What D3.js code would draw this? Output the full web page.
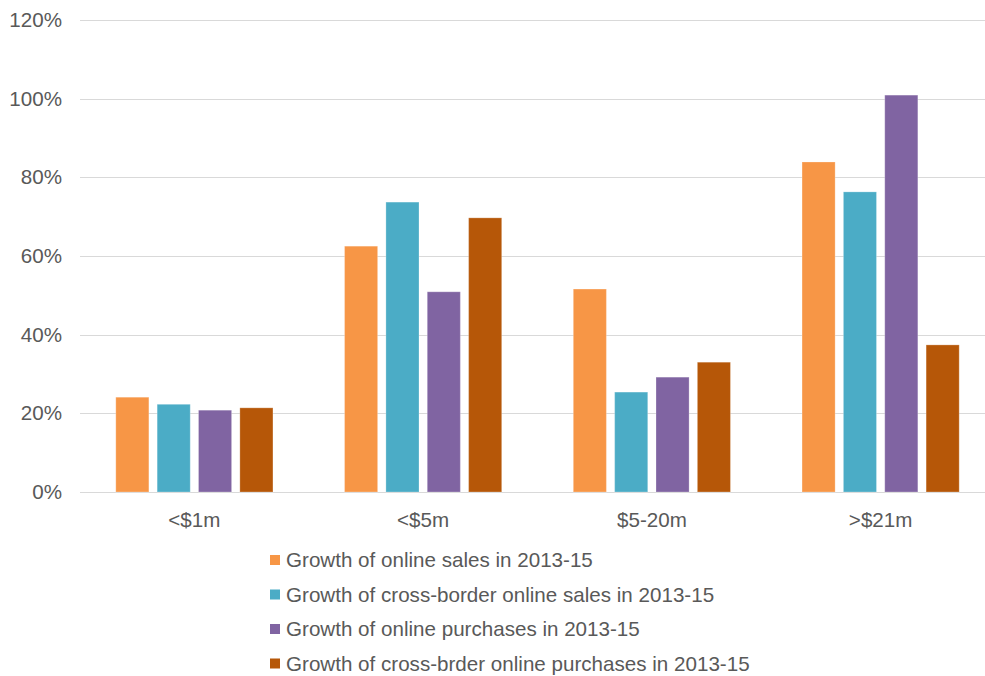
<!DOCTYPE html>
<html lang="en">
<head>
    <meta charset="UTF-8">
    <title>Growth by company size</title>
    <script src="https://d3js.org/d3.v7.min.js"></script>
    <style>
        body { margin: 0; background: #fff; }
        svg { display: block; font-family: "Liberation Sans", Arial, sans-serif; }
        .tick text { fill: #595959; font-size: 20.6px; }
    </style>
</head>
<body>
<svg width="985" height="676"></svg>
<script>
    // categories and series
    const categories = ["<$1m", "<$5m", "$5-20m", ">$21m"];
    const seriesNames = [
        "Growth of online sales in 2013-15",
        "Growth of cross-border online sales in 2013-15",
        "Growth of online purchases in 2013-15",
        "Growth of cross-brder online purchases in 2013-15"
    ];
    const onlineSales = [24.1, 62.5, 51.6, 83.9];
    const crossBorderSales = [22.3, 73.7, 25.4, 76.3];
    const onlinePurchases = [20.8, 50.9, 29.2, 100.9];
    const crossBorderPurchases = [21.4, 69.7, 33.0, 37.4];
    const yTicks = [0, 20, 40, 60, 80, 100, 120];
    const colors = ["#F79646", "#4BACC6", "#8064A2", "#B65708"];

    const seriesValues = [onlineSales, crossBorderSales, onlinePurchases, crossBorderPurchases];

    const svg = d3.select("svg");

    const x0 = d3.scaleBand()
        .domain(categories)
        .range([80, 995])
        .paddingInner(0)
        .paddingOuter(0);

    const x1 = d3.scaleBand()
        .domain(d3.range(seriesNames.length))
        .range([35.8, x0.bandwidth() - 35.8])
        .paddingInner(0.2);

    const y = d3.scaleLinear()
        .domain([0, 120])
        .range([492, 20]);

    // gridlines
    svg.append("g")
        .selectAll("line")
        .data(yTicks)
        .join("line")
        .attr("x1", 80)
        .attr("x2", 995)
        .attr("y1", d => Math.round(y(d)) + 0.5)
        .attr("y2", d => Math.round(y(d)) + 0.5)
        .attr("stroke", "#d9d9d9")
        .attr("stroke-width", 1);

    // y axis labels
    const yAxis = d3.axisLeft(y)
        .tickValues(yTicks)
        .tickFormat(d => d + "%")
        .tickSize(0)
        .tickPadding(18);

    svg.append("g")
        .attr("transform", "translate(80,0)")
        .call(yAxis)
        .call(g => g.select(".domain").remove());

    // x axis labels
    const xAxis = d3.axisBottom(x0)
        .tickSize(0)
        .tickPadding(20);

    svg.append("g")
        .attr("transform", "translate(0,492)")
        .call(xAxis)
        .call(g => g.select(".domain").remove());

    // bars
    const groups = svg.append("g")
        .selectAll("g")
        .data(categories)
        .join("g")
        .attr("transform", d => `translate(${x0(d)},0)`);

    groups.selectAll("rect")
        .data((d, i) => seriesValues.map((vals, s) => ({ s, v: vals[i] })))
        .join("rect")
        .attr("x", d => x1(d.s))
        .attr("width", x1.bandwidth())
        .attr("y", d => y(d.v))
        .attr("height", d => y(0) - y(d.v))
        .attr("fill", d => colors[d.s])
        .attr("stroke", "#fff")
        .attr("stroke-opacity", 0.25)
        .attr("stroke-width", 1);

    // legend
    const legend = svg.append("g")
        .selectAll("g")
        .data(seriesNames)
        .join("g")
        .attr("transform", (d, i) => `translate(270,${560 + i * 34.5})`);

    legend.append("rect")
        .attr("x", 0)
        .attr("y", -5)
        .attr("width", 10)
        .attr("height", 10)
        .attr("fill", (d, i) => colors[i]);

    legend.append("text")
        .attr("x", 16)
        .attr("y", 0)
        .attr("dy", "0.35em")
        .attr("fill", "#595959")
        .attr("font-size", "20.6px")
        .text(d => d);
</script>
</body>
</html>
